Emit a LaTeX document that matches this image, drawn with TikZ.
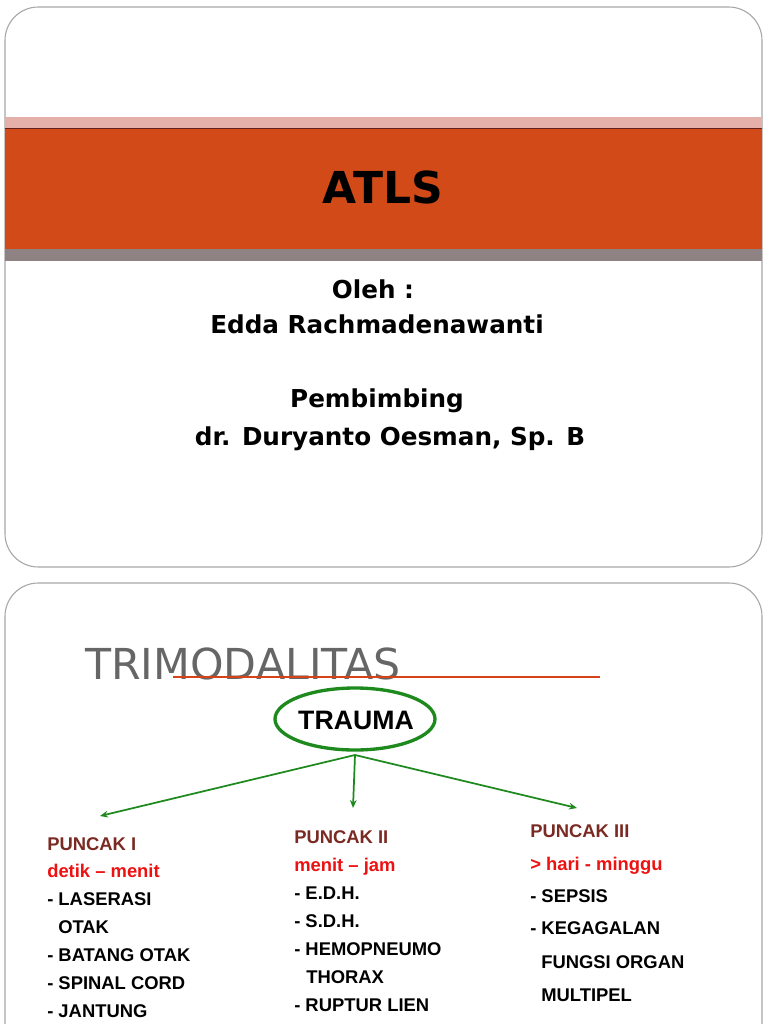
\documentclass[tikz,border=0pt]{standalone}
\usepackage{fontspec}
\setmainfont{DejaVu Sans}
\newfontfamily\arial{Liberation Sans}
\usetikzlibrary{arrows.meta}
\definecolor{band}{HTML}{D14A18}
\definecolor{pinkband}{HTML}{E6B0AA}
\definecolor{grayband}{HTML}{8E8283}
\definecolor{ggreen}{HTML}{1E8A1E}
\definecolor{puncak}{HTML}{7A2A22}
\definecolor{rred}{HTML}{EE1111}
\tikzset{
  lbl/.style={font=\arial\bfseries\fontsize{13.8}{15}\selectfont,anchor=base west,inner sep=0},
  phead/.style={lbl,text=puncak},
  ptime/.style={lbl,text=rred},
  arr/.style={ggreen,line width=1.3pt,-{Stealth[length=6pt,width=5pt]}},
  sub/.style={font=\bfseries\fontsize{18.5}{20}\selectfont,inner sep=0,anchor=base}
}
\begin{document}
\begin{tikzpicture}[x=0.75pt,y=-0.75pt]
\useasboundingbox (0,0) rectangle (768,1024);
\fill[white] (0,0) rectangle (768,1024);
% slide 1
\draw[gray!70,line width=0.8pt,rounded corners=25pt] (5,7) rectangle (762,567);
\fill[pinkband] (5,117) rectangle (762,128);
\fill[band] (5,128) rectangle (762,249);
\draw[puncak!80!black,line width=0.8pt] (5,128.5) -- (762,128.5);
\fill[grayband] (5,249) rectangle (762,261);
\node[font=\bfseries\fontsize{33}{38}\selectfont,inner sep=0,anchor=base] (title) at (383,203) {ATLS};
\node[sub] (oleh) at (373,298) {Oleh :};
\node[sub] (name) at (377,333) {Edda Rachmadenawanti};
\node[sub] (pemb) at (377,407) {Pembimbing};
\node[sub] (dr) at (390,445) {dr. Duryanto Oesman, Sp. B};
% slide 2
\draw[gray!70,line width=0.8pt,rounded corners=25pt] (5,1040) -- (5,583) -- (762,583) -- (762,1040);
\node[font=\fontsize{32}{38}\selectfont,text=black!60,inner sep=0,anchor=base west] (trimo) at (85,679) {TRIMODALITAS};
\draw[band!90!red,line width=2pt] (173,677) -- (600,677);
\draw[ggreen,line width=2.5pt] (355,719) ellipse (80 and 31);
\node[font=\arial\bfseries\fontsize{20}{24}\selectfont,inner sep=0] (trauma) at (356,720) {TRAUMA};
\coordinate (top) at (355,755);
\coordinate (e1) at (100,816);
\coordinate (e2) at (353,808);
\coordinate (e3) at (577,808);
\draw[arr] (top) -- (e1);
\draw[arr] (top) -- (e2);
\draw[arr] (top) -- (e3);
% column 1
\node[phead] (p1) at (47,850) {PUNCAK I};
\node[ptime] (t1) at (47,877) {detik – menit};
\node[lbl] (a1) at (47,905) {- LASERASI};
\node[lbl] (a2) at (58,933) {OTAK};
\node[lbl] (a3) at (47,961) {- BATANG OTAK};
\node[lbl] (a4) at (47,989) {- SPINAL CORD};
\node[lbl] (a5) at (47,1017) {- JANTUNG};
% column 2
\node[phead] (p2) at (294,843) {PUNCAK II};
\node[ptime] (t2) at (294,871) {menit – jam};
\node[lbl] (b1) at (294,899) {- E.D.H.};
\node[lbl] (b2) at (294,927) {- S.D.H.};
\node[lbl] (b3) at (294,955) {- HEMOPNEUMO};
\node[lbl] (b4) at (306,983) {THORAX};
\node[lbl] (b5) at (294,1011) {- RUPTUR LIEN};
% column 3
\node[phead] (p3) at (530,837) {PUNCAK III};
\node[ptime] (t3) at (530,870) {> hari - minggu};
\node[lbl] (c1) at (530,902) {- SEPSIS};
\node[lbl] (c2) at (530,934) {- KEGAGALAN};
\node[lbl] (c3) at (541,968) {FUNGSI ORGAN};
\node[lbl] (c4) at (541,1001) {MULTIPEL};
\end{tikzpicture}
\end{document}
